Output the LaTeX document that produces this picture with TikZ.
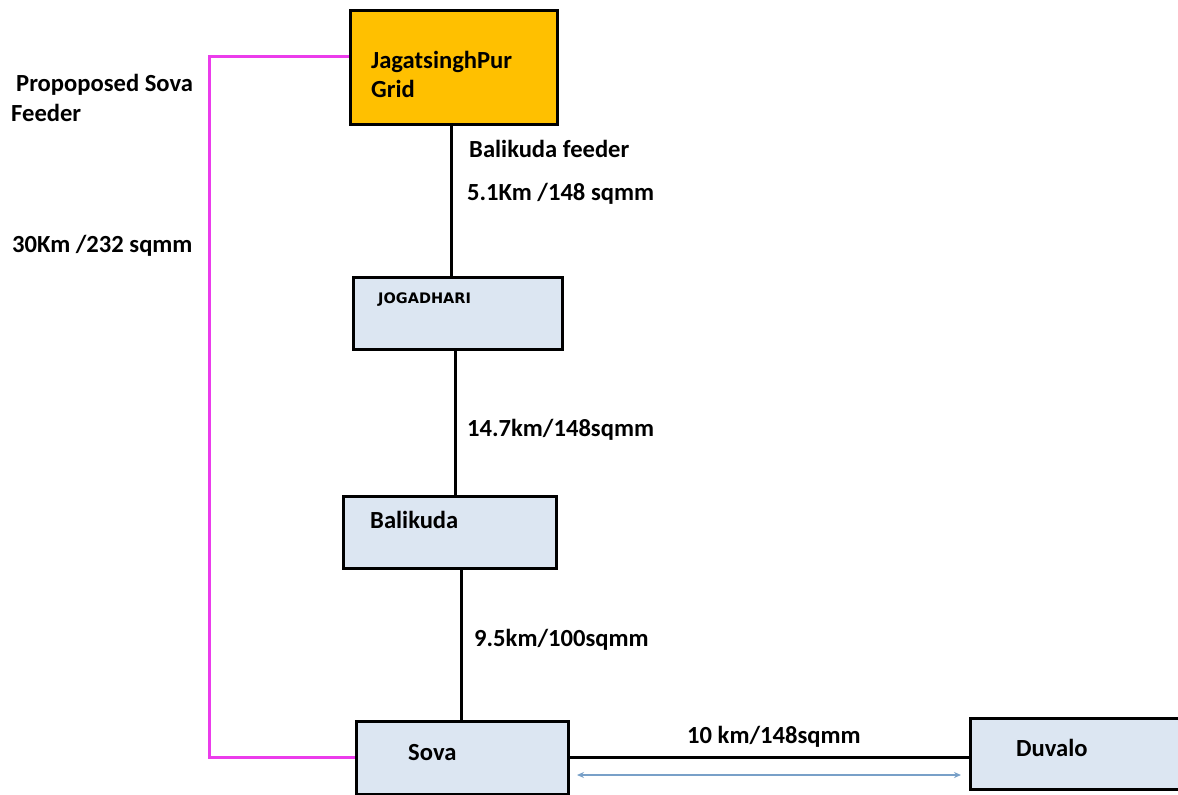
\documentclass[tikz,border=0pt]{standalone}
\usepackage{fontspec}
\setmainfont{Carlito}
\newfontfamily\jogfont{DejaVu Sans}
\usetikzlibrary{arrows.meta}
\definecolor{boxblue}{RGB}{220,230,242}
\definecolor{gridorange}{RGB}{255,192,0}
\definecolor{propmag}{RGB}{235,60,235}
\definecolor{dimblue}{RGB}{120,160,200}
\tikzset{
  stbox/.style={draw=black, line width=3pt, fill=boxblue, rectangle, inner sep=0pt},
  lbl/.style={anchor=base west, inner sep=0pt, font=\bfseries\fontsize{24.6}{29}\selectfont},
  feeder/.style={draw=black, line width=3pt},
  propline/.style={draw=propmag, line width=3pt},
  dimline/.style={draw=dimblue, line width=1.4pt, {Stealth[length=7pt,width=6pt]}-{Stealth[length=7pt,width=6pt]}}
}
\begin{document}
\begin{tikzpicture}[x=1pt,y=-1pt]
\useasboundingbox (0,0) rectangle (1178,795);
\clip (0,0) rectangle (1178,795);
\fill[white] (0,0) rectangle (1178,795);

% boxes
\node[stbox, fill=gridorange, minimum width=207pt, minimum height=114pt] (grid) at (453.5,67) {};
\node[stbox, minimum width=209pt, minimum height=72pt] (jog) at (457.5,313) {};
\node[stbox, minimum width=213pt, minimum height=72pt] (bal) at (449.5,532) {};
\node[stbox, minimum width=212pt, minimum height=73pt] (sova) at (462,757.5) {};
\node[stbox, minimum width=220pt, minimum height=71pt] (duv) at (1080,753.5) {};

% box texts
\node[lbl] (gridtxt) at (371,68) {JagatsinghPur};
\node[lbl] (gridtxt2) at (371,97) {Grid};
\node[anchor=base west, inner sep=0pt, font=\jogfont\bfseries\fontsize{14.5}{17}\selectfont] (jogtxt) at (378,303) {JOGADHARI};
\node[lbl] (baltxt) at (370,528) {Balikuda};
\node[lbl] (sovatxt) at (408,760) {Sova};
\node[lbl] (duvtxt) at (1016,756) {Duvalo};

% connector labels
\node[lbl] (proptxt1) at (16,91) {Propoposed Sova};
\node[lbl] (proptxt2) at (11,121) {Feeder};
\node[lbl] (proplen) at (12,252) {30Km /232 sqmm};
\node[lbl] (balfeed) at (469,157) {Balikuda feeder};
\node[lbl] (len1) at (467,200) {5.1Km /148 sqmm};
\node[lbl] (len2) at (467,436) {14.7km/148sqmm};
\node[lbl] (len3) at (474,646) {9.5km/100sqmm};
\node[lbl] (len4) at (687,743) {10 km/148sqmm};

% connectors
\draw[feeder] (grid.south -| 451,0) -- (jog.north -| 451,0);
\draw[feeder] (jog.south -| 455,0) -- (bal.north -| 455,0);
\draw[feeder] (bal.south -| 461,0) -- (sova.north -| 461,0);
\draw[feeder] (sova.east |- 0,757.5) -- (duv.west |- 0,757.5);
\draw[propline] (grid.west |- 0,56) -| (sova.west -| 209,0) -- (sova.west);

% dimension arrow
\coordinate (dimA) at (577,775);
\coordinate (dimB) at (961,775);
\draw[dimline] (dimA) -- (dimB);
\end{tikzpicture}
\end{document}
